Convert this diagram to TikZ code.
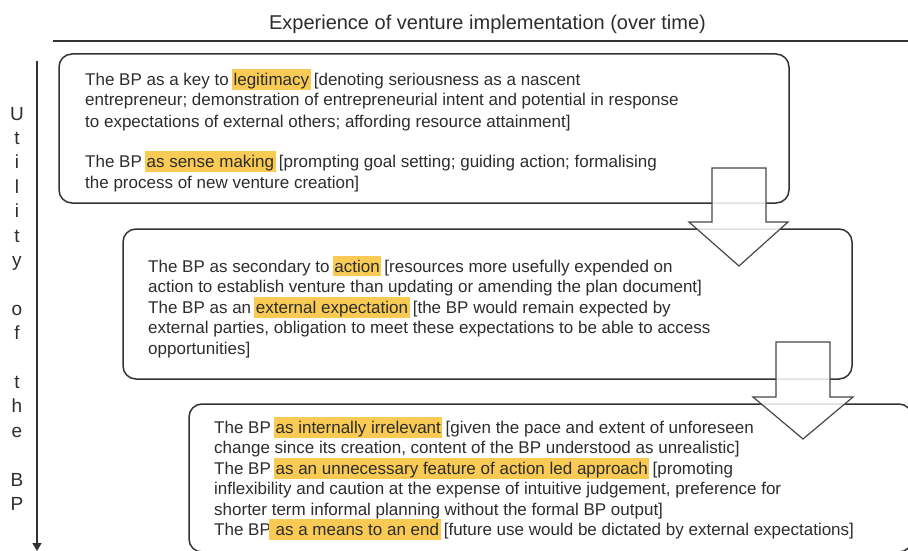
\documentclass[tikz,border=0pt]{standalone}
\usepackage{fontspec}
\setmainfont{Liberation Sans}
\usetikzlibrary{arrows.meta}
\definecolor{ink}{RGB}{45,45,45}
\definecolor{edge}{RGB}{50,50,50}
\definecolor{hlcol}{RGB}{249,203,84}
% highlighted phrase: coloured band behind the words, text position unchanged
\newcommand{\hlt}[1]{\hspace{-1.5pt}{\setlength{\fboxsep}{1.5pt}\colorbox{hlcol}{\rule[-2.5pt]{0pt}{17.5pt}#1}}\hspace{-1.5pt}}
\begin{document}
\begin{tikzpicture}[x=1pt,y=-1pt,
  stagebox/.style={draw=edge,line width=1.5pt,rounded corners=13pt},
  txt/.style={anchor=base west,inner sep=0pt,text=ink,font=\fontsize{17}{20}\selectfont},
  axisletter/.style={anchor=base,inner sep=0pt,text=ink,font=\fontsize{19}{22}\selectfont},
  blockarrow/.style={draw=edge!90,line width=1.2pt,fill=white,fill opacity=0.85,line join=miter}]
\useasboundingbox (0,0) rectangle (908,551);
\begin{scope}
\clip (0,0) rectangle (908,551);

% header
\node[anchor=base,inner sep=0pt,text=ink,font=\fontsize{20}{24}\selectfont] (title) at (487.5,30)
  {Experience of venture implementation (over time)};
\coordinate (hl) at (53,41);
\coordinate (hr) at (908,41);
\draw[edge,line width=1.6pt] (hl) -- (hr);

% vertical axis
\coordinate (ax0) at (37,61);
\coordinate (ax1) at (37,551);
\draw[edge,line width=1.6pt,-{Triangle[length=8pt,width=9pt]}] (ax0) -- (ax1);
\foreach \ch/\row [count=\k] in {U/0,t/1,i/2,l/3,i/4,t/5,y/6,o/8,f/9,t/11,h/12,e/13,B/15,P/16}
  \node[axisletter] (ax\k) at (17,{120+24.4*\row}) {\ch};

% stage boxes
\draw[stagebox] (59,54) rectangle (789,203);
\coordinate (s1) at (424,128.5);
\draw[stagebox] (123,229) rectangle (852,379);
\coordinate (s2) at (487.5,304);
\draw[stagebox] (189,404) rectangle (912,552);
\coordinate (s3) at (550,478);

% stage 1
\node[txt] (a1) at (85,85) {The BP as a key to \hlt{legitimacy} [denoting seriousness as a nascent};
\node[txt] (a2) at (85,106) {entrepreneur; demonstration of entrepreneurial intent and potential in response};
\node[txt] (a3) at (85,127) {to expectations of external others; affording resource attainment]};
\node[txt] (a4) at (85,167) {The BP \hlt{as sense making} [prompting goal setting; guiding action; formalising};
\node[txt] (a5) at (85,188) {the process of new venture creation]};

% stage 2
\node[txt] (b1) at (148,272) {The BP as secondary to \hlt{action} [resources more usefully expended on};
\node[txt] (b2) at (148,292.5) {action to establish venture than updating or amending the plan document]};
\node[txt] (b3) at (148,313) {The BP as an \hlt{external expectation} [the BP would remain expected by};
\node[txt] (b4) at (148,333.5) {external parties, obligation to meet these expectations to be able to access};
\node[txt] (b5) at (148,354) {opportunities]};

% stage 3
\node[txt] (c1) at (214,433) {The BP \hlt{as internally irrelevant} [given the pace and extent of unforeseen};
\node[txt] (c2) at (214,453.5) {change since its creation, content of the BP understood as unrealistic]};
\node[txt] (c3) at (214,474) {The BP \hlt{as an unnecessary feature of action led approach} [promoting};
\node[txt] (c4) at (214,494.5) {inflexibility and caution at the expense of intuitive judgement, preference for};
\node[txt] (c5) at (214,515) {shorter term informal planning without the formal BP output]};
\node[txt] (c6) at (214,535.5) {The BP\hlt{ as a means to an end} [future use would be dictated by external expectations]};

% transitions between stages
\draw[blockarrow] (712,168) -- (766,168) -- (766,222) -- (788,222) -- (739,266)
  -- (689,222) -- (712,222) -- cycle;
\draw[blockarrow] (776,342) -- (830,342) -- (830,397) -- (853,397) -- (803,439)
  -- (753,397) -- (776,397) -- cycle;
\end{scope}
\end{tikzpicture}
\end{document}
